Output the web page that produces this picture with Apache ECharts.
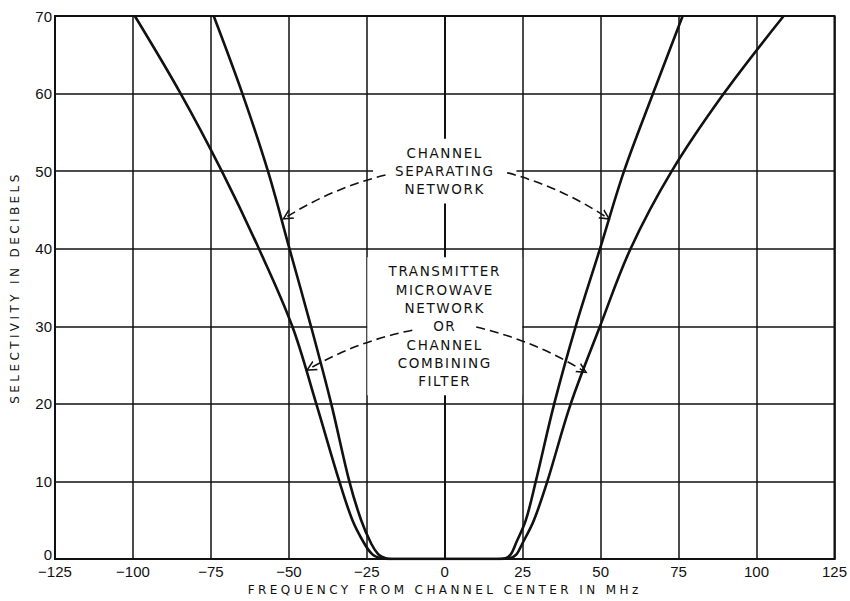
<!DOCTYPE html>
<html>
<head>
<meta charset="utf-8">
<script src="https://cdn.jsdelivr.net/npm/echarts@6/dist/echarts.min.js"></script>
<style>
html,body{margin:0;padding:0;background:#fff}
#c{width:850px;height:601px}
#c text[style*="Verdana"]{letter-spacing:3.4px}
#c text[style*="DejaVu Sans"]:not([style*="Verdana"]){letter-spacing:1.6px}
</style>
</head>
<body>
<div id="c"></div>
<script>
// Channel separating network (steeper curve)
var sepX = [-74.1, -64.9, -56.7, -49.8, -42.9, -36.4, -30.6, -26.8, -23.6, -21.3, -19.0, -17.0, 17.0, 19.5, 21.2, 22.8, 26.0, 29.2, 35.1, 42.0, 49.8, 57.5, 66.8, 76.3];
var sepY = [70, 60, 50, 40, 30, 20, 10, 5, 2, 0.6, 0.1, 0, 0, 0.1, 0.6, 2, 5, 10, 20, 30, 40, 50, 60, 70];
// Transmitter microwave network or channel combining filter
var txX = [-99.4, -84.7, -71.5, -59.6, -48.9, -41.2, -33.8, -29.6, -25.8, -23.2, -20.5, -18.0, 18.0, 20.8, 23.0, 24.9, 28.6, 32.9, 40.4, 49.8, 59.6, 72.8, 89.5, 108.7];
var txY = [70, 60, 50, 40, 30, 20, 10, 5, 2, 0.6, 0.1, 0, 0, 0.1, 0.6, 2, 5, 10, 20, 30, 40, 50, 60, 70];

var xTicks = [-125, -100, -75, -50, -25, 0, 25, 50, 75, 100, 125];
var yTicks = [0, 10, 20, 30, 40, 50, 60, 70];

var labelTexts = ['CHANNEL\nSEPARATING\nNETWORK', 'TRANSMITTER\nMICROWAVE\nNETWORK\nOR\nCHANNEL\nCOMBINING\nFILTER'];
var labelX = [0, 0];
var labelY = [50, 30];

// dashed arrows: start and end points (data units) and bend
var arrowStartX = [-19.0, 20.0, -10.4, 10.1];
var arrowStartY = [49.5, 49.8, 29.5, 29.9];
var arrowEndX = [-50.7, 51.7, -43.1, 44.3];
var arrowEndY = [44.1, 44.1, 24.6, 24.3];
var arrowBend = [-0.08, 0.08, -0.08, 0.08];

function zip(a, b) { return a.map(function (v, i) { return [v, b[i]]; }); }

var chart = echarts.init(document.getElementById('c'), null, {renderer: 'svg'});
var ink = '#111';
var tickFont = '"Liberation Sans", Arial, sans-serif';

var arrowData = arrowStartX.map(function (x, i) {
  return {
    coords: [[x, arrowStartY[i]], [arrowEndX[i], arrowEndY[i]]],
    lineStyle: {curveness: arrowBend[i]}
  };
});

chart.setOption({
  animation: false,
  backgroundColor: '#fff',
  grid: {left: 55, right: 14, top: 16, bottom: 42, show: true, borderColor: ink, borderWidth: 2, backgroundColor: 'transparent'},
  xAxis: {
    type: 'value', min: xTicks[0], max: xTicks[xTicks.length - 1], interval: 25,
    name: 'FREQUENCY FROM CHANNEL CENTER IN MHz', nameLocation: 'middle', nameGap: 24,
    nameTextStyle: {fontFamily: 'Verdana, "DejaVu Sans"', fontSize: 12, color: ink},
    axisLine: {show: true, lineStyle: {color: ink, width: 2}},
    axisTick: {show: false},
    axisLabel: {margin: 5, fontSize: 15, fontFamily: tickFont, color: ink,
      formatter: function (v) { return v < 0 ? '\u2212' + Math.abs(v) : String(v); }},
    splitLine: {show: true, lineStyle: {color: ink, width: 1.5}}
  },
  yAxis: {
    type: 'value', min: yTicks[0], max: yTicks[yTicks.length - 1], interval: 10,
    name: 'SELECTIVITY IN DECIBELS', nameLocation: 'middle', nameGap: 34, nameRotate: 90,
    nameTextStyle: {fontFamily: 'Verdana, "DejaVu Sans"', fontSize: 12, color: ink},
    axisLine: {show: true, lineStyle: {color: ink, width: 2}},
    axisTick: {show: false},
    axisLabel: {margin: 3, fontSize: 15, fontFamily: tickFont, color: ink,
      formatter: function (v) { return v === 0 ? '{z|0}' : String(v); },
      rich: {z: {fontSize: 15, fontFamily: tickFont, color: ink, padding: [0, 0, 9, 0]}}},
    splitLine: {show: true, lineStyle: {color: ink, width: 1.5}}
  },
  series: [
    {
      name: 'Channel separating network', type: 'line', data: zip(sepX, sepY),
      smooth: 0.35, showSymbol: false, symbol: 'none',
      lineStyle: {color: ink, width: 2.6}, z: 3
    },
    {
      name: 'Transmitter microwave network or channel combining filter', type: 'line', data: zip(txX, txY),
      smooth: 0.35, showSymbol: false, symbol: 'none',
      lineStyle: {color: ink, width: 2.6}, z: 3
    },
    {
      type: 'scatter', symbolSize: 0, z: 1, silent: true,
      itemStyle: {opacity: 1},
      data: labelTexts.map(function (t, i) { return {value: [labelX[i], labelY[i]], name: t}; }),
      label: {
        show: true, position: 'inside', formatter: function (p) { return p.name; },
        fontFamily: '"DejaVu Sans"', fontSize: 13.5, lineHeight: 18.3, color: ink, opacity: 1,
        backgroundColor: '#fff', padding: [5, 30, 5, 30], align: 'center', verticalAlign: 'middle'
      }
    },
    {
      type: 'lines', coordinateSystem: 'cartesian2d', z: 8, silent: true,
      symbol: ['none', 'path://M5,0 L10,11 L8.4,11 L5,3.4 L1.6,11 L0,11 Z'], symbolSize: [9, 11],
      lineStyle: {color: ink, width: 1.6, type: [9, 5], opacity: 1},
      data: arrowData
    }
  ]
});
</script>
</body>
</html>
